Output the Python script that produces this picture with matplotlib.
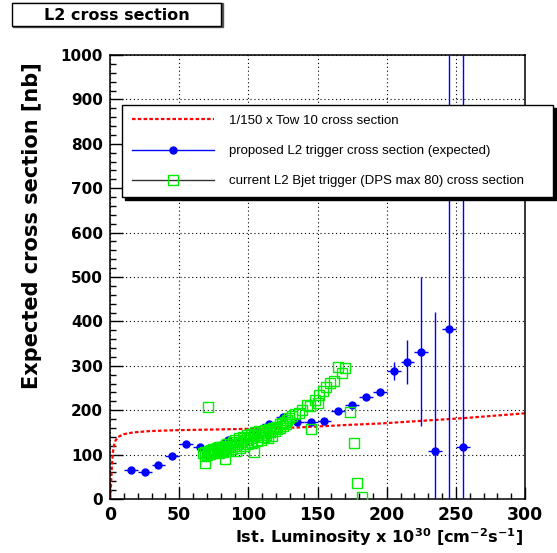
import matplotlib
matplotlib.use("Agg")
import matplotlib.pyplot as plt
from matplotlib.lines import Line2D
from matplotlib.patches import Rectangle
from matplotlib.ticker import MultipleLocator

# ---------------- data ----------------
# red dotted: 1/150 x Tow 10 cross section
red_x = [0, 0.3, 0.7, 1.2, 2, 3, 4, 6, 10, 17, 29, 48, 75, 100, 135, 173, 195, 225, 255, 300]
red_y = [0, 10, 30, 65, 103, 122, 132, 140, 146, 150, 153, 155, 156.5, 158, 161, 167, 170, 176, 182, 193]

# blue: proposed L2 trigger cross section (expected)
blue_x = [15, 25, 35, 45, 55, 65, 75, 85, 95, 105, 115, 125, 135, 145, 155, 165, 175, 185,
          195, 205, 215, 225, 235, 245, 255]
blue_y = [65, 61, 76, 96, 123, 117, 117, 132, 133, 150, 169, 184, 174, 174, 176, 198, 211, 230,
          242, 289, 309, 332, 109, 384, 118]
blue_yerr = [2, 2, 2, 2, 3, 3, 3, 3, 3, 3, 3, 4, 4, 4, 4, 5, 5, 6,
             6, 20, 50, 168, 313, 700, 950]
blue_xerr = [5] * 25

# green: current L2 Bjet trigger (DPS max 80) cross section
green_x = [67.5, 68.5, 69, 70, 70.5, 71.5, 72, 73, 73.5, 74.5, 75, 76, 77, 77.5, 78.5, 79, 80,
           80.5, 81.5, 82, 83, 84, 84.5, 85.5, 86.5, 87, 88, 89, 89.5, 90.5, 91, 92, 93, 94,
           95, 96, 97, 98, 99, 100, 101, 102, 103, 104, 105, 106, 107, 108, 109, 110, 111,
           112, 113, 114, 115, 116, 117, 118, 119, 121, 123, 124, 125, 127, 128,
           110.7, 113, 115.5, 118, 120.3, 122.7, 126.4, 129.5, 131.4, 133.6, 136.5, 139,
           142.5, 144.4, 148, 150.4, 151, 154, 156.4, 159.3, 161.7, 164.9, 168, 169.7,
           71, 68.6, 83, 104, 145.6, 173.3, 176.6, 178.8, 182.2]
green_y = [103, 97, 106, 100, 104, 108, 101, 110, 103, 112, 105, 106, 114, 108, 116, 104, 110,
           118, 112, 106, 120, 114, 123, 109, 125, 117, 112, 128, 120, 134, 108, 124, 137, 115,
           128, 140, 120, 132, 144, 123, 137, 147, 127, 141, 150, 131, 145, 153, 134, 149, 140,
           155, 145, 137, 158, 150, 142, 161, 153, 157, 160, 171, 164, 170, 178,
           140, 148, 154, 159, 163, 168, 174, 182, 187, 191, 194, 200,
           212, 209, 223, 217, 234, 244, 253, 262, 265, 298, 283, 296,
           208, 80, 89, 106, 157, 197, 126, 36, 5]

legend_labels = ["1/150 x Tow 10 cross section",
                 "proposed L2 trigger cross section (expected)",
                 "current L2 Bjet trigger (DPS max 80) cross section"]
title_text = "L2 cross section"
xlabel_text = r"Ist. Luminosity x 10$^{\mathbf{30}}$ [cm$^{\mathbf{-2}}$s$^{\mathbf{-1}}$]"
ylabel_text = "Expected cross section [nb]"

# ---------------- style ----------------
plt.rcParams['mathtext.fontset'] = 'custom'
plt.rcParams['mathtext.rm'] = 'DejaVu Sans:bold'
plt.rcParams['mathtext.bf'] = 'DejaVu Sans:bold'

BLUE = '#0000ff'
GREEN = '#00ee00'
RED = '#ff0000'

W, H = 557, 553
fig = plt.figure(figsize=(W / 100, H / 100), dpi=100)
ax = fig.add_axes([110 / W, 1 - 499 / H, 415 / W, 444 / H])

ax.set_xlim(0, 300)
ax.set_ylim(0, 1000)

ax.xaxis.set_major_locator(MultipleLocator(50))
ax.xaxis.set_minor_locator(MultipleLocator(10))
ax.yaxis.set_major_locator(MultipleLocator(100))
ax.yaxis.set_minor_locator(MultipleLocator(20))
ax.tick_params(which='both', direction='in', top=False, right=False, width=1, color='black')
ax.tick_params(which='major', length=9)
ax.tick_params(which='minor', length=4.5)
ax.tick_params(axis='x', which='major', pad=5)
ax.tick_params(axis='y', which='major', pad=5)
for lab in ax.get_xticklabels():
    lab.set_fontfamily('DejaVu Sans'); lab.set_fontweight('bold'); lab.set_fontsize(12.4)
for lab in ax.get_yticklabels():
    lab.set_fontfamily('DejaVu Sans'); lab.set_fontweight('bold'); lab.set_fontsize(11)

ax.grid(True, which='major', color='black', linestyle=(0, (1, 2.5)), linewidth=0.8)
ax.set_axisbelow(True)
for sp in ax.spines.values():
    sp.set_color('black'); sp.set_linewidth(1.1)

# ---------------- plot ----------------
ax.plot(red_x, red_y, color=RED, linewidth=1.6, linestyle=(0, (1.6, 1.0)), zorder=2)
ax.errorbar(blue_x, blue_y, yerr=blue_yerr, xerr=blue_xerr, fmt='o', color=BLUE,
            markersize=5, elinewidth=1, capsize=0, zorder=3)
ax.plot(green_x, green_y, linestyle='none', marker='s', markersize=6.8, markerfacecolor='none',
        markeredgecolor=GREEN, markeredgewidth=1, zorder=4)

# axis labels (ROOT style: aligned at the end of the axes)
ax.text(0.995, -0.099, xlabel_text, transform=ax.transAxes, ha='right', va='baseline',
        fontsize=11.6, fontweight='bold', fontfamily='DejaVu Sans')
ax.text(-0.188, 0.984, ylabel_text, transform=ax.transAxes, rotation=90, ha='center', va='top',
        fontsize=15, fontweight='bold', fontfamily='DejaVu Sans')

# legend
handles = [Line2D([], [], color=RED, linewidth=1.6, linestyle=(0, (1.6, 1.0))),
           Line2D([], [], color=BLUE, linewidth=1, marker='o', markersize=5),
           Line2D([], [], color='#333333', linewidth=1, marker='s', markersize=6.5,
                  markerfacecolor='none', markeredgecolor=GREEN, markeredgewidth=1)]
leg = fig.legend(handles, legend_labels, loc='upper left',
                 bbox_to_anchor=(122 / W, 1 - 193 / H, 431 / W, 88 / H), mode='expand',
                 borderaxespad=0, borderpad=0.73, labelspacing=1.37, handlelength=6.24,
                 handletextpad=1.14, fancybox=False, frameon=True,
                 shadow={'facecolor': 'black', 'edgecolor': 'black', 'alpha': 1},
                 prop={'family': 'Liberation Sans', 'size': 9.5})
leg.get_frame().set_edgecolor('black')
leg.get_frame().set_linewidth(1)
leg.set_zorder(10)

# title box
fig.patches.append(Rectangle((13 / W, 1 - 27 / H), 210 / W, 24 / H, transform=fig.transFigure,
                             facecolor='#555555', edgecolor='#555555', linewidth=1, zorder=0))
fig.patches.append(Rectangle((12 / W, 1 - 26 / H), 209 / W, 23 / H, transform=fig.transFigure,
                             facecolor='white', edgecolor='black', linewidth=1, zorder=1))
fig.text(117 / W, 1 - 15 / H, title_text, ha='center', va='center', fontsize=11.5,
         fontweight='bold', fontfamily='DejaVu Sans', zorder=2)

fig.savefig('out.png', dpi=100)
